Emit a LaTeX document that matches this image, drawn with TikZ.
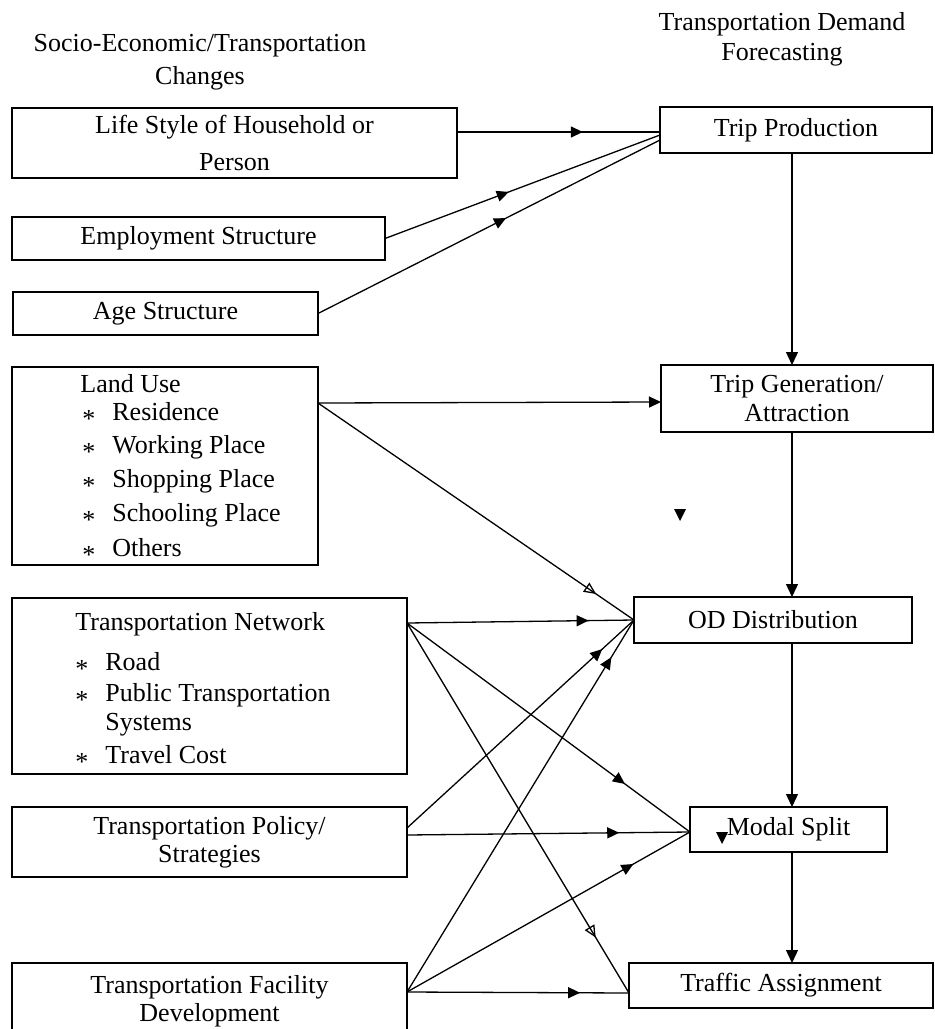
\documentclass[tikz,border=0pt]{standalone}
\usepackage{fontspec}
\setmainfont{Liberation Serif}
\usetikzlibrary{arrows.meta,decorations.markings}

\newcommand{\listmark}{\raisebox{-0.55ex}{*}}

\begin{document}
\begin{tikzpicture}[x=0.5pt,y=-0.5pt,
  box/.style={draw, line width=0.9pt, inner sep=0pt, outer sep=0pt,
    anchor=north west, align=center},
  txt/.style={font=\fontsize{13}{14}\selectfont},
  head/.style={align=center, inner sep=0pt},
  item/.style={anchor=west, inner sep=0pt, text height=8.6pt, text depth=0pt,
    font=\fontsize{13}{14}\selectfont},
  conn/.style={line width=0.65pt},
  tip/.style={-{Triangle[length=6.5pt,width=6pt]}},
  midarrow/.style={postaction={decorate, decoration={markings,
    mark=at position #1 with {\arrow{Triangle[length=6pt,width=5.5pt]}}}}},
  midopen/.style={postaction={decorate, decoration={markings,
    mark=at position #1 with {\arrow{Triangle[open,length=6pt,width=5.5pt]}}}}}]

\clip (0,0) rectangle (934,1029);
\fill[white] (0,0) rectangle (934,1029);

% column headings
\node[head, font=\fontsize{13}{16.5}\selectfont] (hl) at (200,62)
  {Socio-Economic/Transportation\\Changes};
\node[head, font=\fontsize{13}{15}\selectfont] (hr) at (782,39)
  {Transportation Demand\\Forecasting};

% left column: influencing factors
\node[box, font=\fontsize{13}{18.5}\selectfont, minimum width=222.5pt, minimum height=35pt]
  (ls) at (12,108) {Life Style of Household or\\Person};
\node[box, txt, minimum width=186.5pt, minimum height=21.5pt]
  (emp) at (12,217) {Employment Structure};
\node[box, txt, minimum width=152.5pt, minimum height=21.5pt]
  (age) at (13,292) {Age Structure};
\node[box, minimum width=153pt, minimum height=99pt] (lu) at (12,367) {};
\node[box, minimum width=197.5pt, minimum height=88pt] (tn) at (12,598) {};
\node[box, font=\fontsize{13}{14}\selectfont, minimum width=197.5pt, minimum height=35pt]
  (pol) at (12,807) {Transportation Policy/\\Strategies};
\node[box, font=\fontsize{13}{14}\selectfont, minimum width=197.5pt, minimum height=38pt]
  (fac) at (12,963) {Transportation Facility\\Development};

% land use list
\node[item] (lut) at (80,384) {Land Use};
\node[item] (lus1) at (82,412) {\listmark};
\node[item] (lui1) at (112,412) {Residence};
\node[item] (lus2) at (82,445) {\listmark};
\node[item] (lui2) at (112,445) {Working Place};
\node[item] (lus3) at (82,479) {\listmark};
\node[item] (lui3) at (112,479) {Shopping Place};
\node[item] (lus4) at (82,513) {\listmark};
\node[item] (lui4) at (112,513) {Schooling Place};
\node[item] (lus5) at (82,548) {\listmark};
\node[item] (lui5) at (112,548) {Others};

% transportation network list
\node[item] (tnt) at (75,622) {Transportation Network};
\node[item] (tns1) at (75,662) {\listmark};
\node[item] (tni1) at (105,662) {Road};
\node[item] (tns2) at (75,693) {\listmark};
\node[item] (tni2) at (105,693) {Public Transportation};
\node[item] (tni2b) at (105,722) {Systems};
\node[item] (tns3) at (75,755) {\listmark};
\node[item] (tni3) at (105,755) {Travel Cost};

% right column: four-step forecasting chain
\node[box, txt, minimum width=136pt, minimum height=23pt]
  (tp) at (660,107) {Trip Production};
\node[box, font=\fontsize{13}{14.5}\selectfont, minimum width=136pt, minimum height=33.5pt]
  (tg) at (661,365) {Trip Generation/\\Attraction};
\node[box, txt, minimum width=139pt, minimum height=23pt]
  (od) at (634,597) {OD Distribution};
\node[box, txt, minimum width=98.5pt, minimum height=22.5pt]
  (ms) at (690,807) {Modal Split};
\node[box, txt, minimum width=152pt, minimum height=22.5pt]
  (ta) at (629,963) {Traffic Assignment};

% stray arrowhead marks
\fill (674,509) -- (686,509) -- (680,521) -- cycle;
\fill (716,832) -- (728,832) -- (722,844) -- cycle;

% chain connectors
\draw[conn, tip] ([xshift=-2pt]tp.south) -- ([xshift=-2.5pt]tg.north);
\draw[conn, tip] ([xshift=-2.5pt]tg.south) -- ([xshift=9.5pt]od.north);
\draw[conn, tip] ([xshift=9.5pt]od.south) -- ([xshift=1.75pt]ms.north);
\draw[conn, tip] ([xshift=1.75pt]ms.south) -- ([xshift=5.5pt]ta.north);

% factor connectors
\draw[conn, midarrow=0.62] ([yshift=5.5pt]ls.east) -- ([yshift=-1pt]tp.west);
\draw[conn, midarrow=0.45] (emp.east) -- ([yshift=-2.5pt]tp.west);
\draw[conn, midarrow=0.55] (age.east) -- ([yshift=-5pt]tp.west);
\draw[conn, -{Triangle[length=6pt,width=5.5pt]}] ([yshift=-18pt]lu.north east) -- ([yshift=-1.75pt]tg.west);
\draw[conn, midopen=0.88] ([yshift=-18pt]lu.north east) -- (od.west);
\draw[conn, midarrow=0.8] ([yshift=-12.5pt]tn.north east) -- (od.west);
\draw[conn, midarrow=0.77] ([yshift=-12.5pt]tn.north east) -- ([yshift=-1.25pt]ms.west);
\draw[conn, midopen=0.85] ([yshift=-12.5pt]tn.north east) -- ([yshift=-3.75pt]ta.west);
\draw[conn, midarrow=0.86] ([yshift=7pt]pol.east) -- (od.west);
\draw[conn, midarrow=0.75] ([yshift=3.5pt]pol.east) -- ([yshift=-1.25pt]ms.west);
\draw[conn, midarrow=0.9] ([yshift=4.5pt]fac.east) -- (od.west);
\draw[conn, midarrow=0.8] ([yshift=4.5pt]fac.east) -- ([yshift=-1.25pt]ms.west);
\draw[conn, midarrow=0.78] ([yshift=4.5pt]fac.east) -- ([yshift=-3.75pt]ta.west);

\end{tikzpicture}
\end{document}
